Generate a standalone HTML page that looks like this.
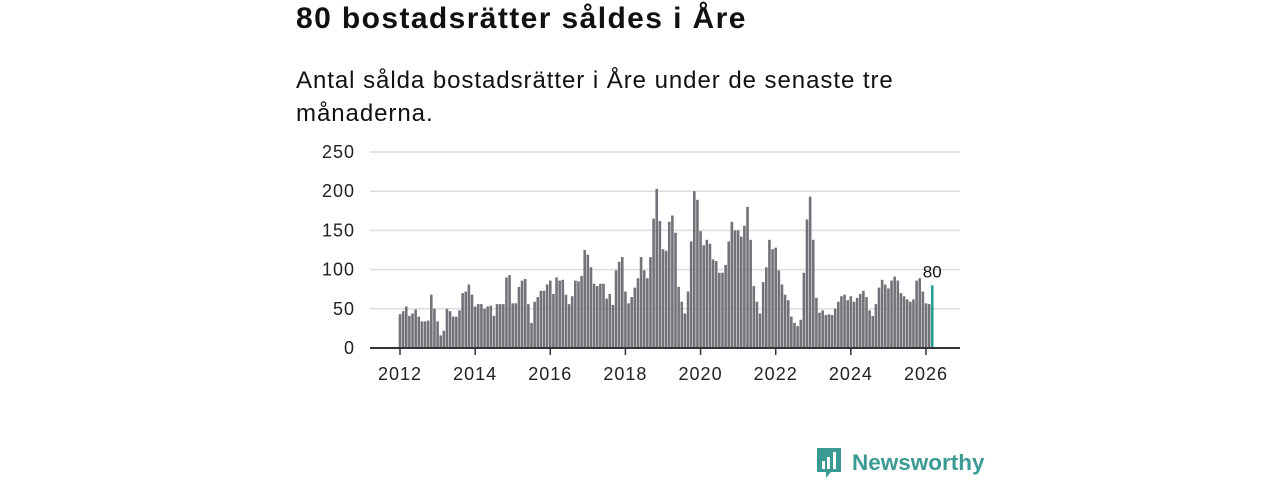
<!DOCTYPE html>
<html><head><meta charset="utf-8"><style>
body{margin:0;width:1280px;height:480px;background:#fff;overflow:hidden;font-family:"Liberation Sans",sans-serif;color:#111}
#title{position:absolute;left:296px;top:2px;font-size:30px;font-weight:bold;margin:0;letter-spacing:1.4px}
#sub{position:absolute;left:296px;top:64px;font-size:24px;line-height:33px;width:660px;margin:0;letter-spacing:0.95px}
svg{position:absolute;left:0;top:0}
</style></head><body>
<h1 id="title">80 bostadsrätter såldes i Åre</h1>
<p id="sub">Antal sålda bostadsrätter i Åre under de senaste tre månaderna.</p>
<svg id="chart" width="1280" height="480"></svg>
<script>
const startYear = 2012;
const values = [43,47,53,41,44,49,40,34,34,35,68,50,34,16,22,50,47,40,40,48,70,72,81,68,53,56,56,50,53,54,41,56,56,56,90,93,57,57,78,86,88,56,32,59,65,73,73,81,86,69,90,86,87,68,56,66,86,85,92,125,119,103,82,79,82,82,63,69,55,99,110,116,72,57,65,77,89,116,99,89,116,165,203,162,126,124,161,169,147,78,59,44,72,136,200,189,149,131,138,133,113,111,96,96,106,136,161,150,150,142,156,180,138,79,59,44,84,103,138,126,128,99,81,68,61,40,32,28,36,96,164,193,138,64,45,48,42,43,42,50,59,66,68,61,66,59,64,69,73,65,48,41,56,77,87,81,76,86,91,86,70,66,62,59,62,86,89,72,57,56,80];
const yTicks = [0,50,100,150,200,250];
const xTicks = [2012,2014,2016,2018,2020,2022,2024,2026];
const NS='http://www.w3.org/2000/svg';
const svg=document.getElementById('chart');
const x=t=>400+(t-2012)*37.57;
const y=v=>348-v*0.784;
function mk(tag,attrs){const e=document.createElementNS(NS,tag);for(const k in attrs)e.setAttribute(k,attrs[k]);svg.appendChild(e);return e;}
yTicks.forEach(v=>{
  if(v>0){const g=mk('line',{x1:370,x2:960,y1:y(v),y2:y(v),stroke:'#dcdcdc','stroke-width':1.5});
  
  }
  const t=mk('text',{x:355,y:y(v)+6,'text-anchor':'end','font-size':18,fill:'#222','letter-spacing':1});
  t.textContent=v;
  
  
});
values.forEach((v,i)=>{
  const last=i===values.length-1;
  const cx=x(startYear+i/12);
  const r=mk('rect',{x:cx-1.3,y:y(v),width:2.6,height:348-y(v),fill:last?'#2a9d94':'#747279'});
  
  
  if(last){const t=mk('text',{x:cx,y:y(v)-8,'text-anchor':'middle','font-size':17,fill:'#111'});t.textContent=v;
  
  }
});
const ax=mk('line',{x1:370,x2:960,y1:348,y2:348,stroke:'#333','stroke-width':2});


xTicks.forEach(yr=>{
  const tk=mk('line',{x1:x(yr),x2:x(yr),y1:348,y2:355,stroke:'#333','stroke-width':1.5});
  
  
  const t=mk('text',{x:x(yr),y:380,'text-anchor':'middle','font-size':18,fill:'#222','letter-spacing':1});
  t.textContent=yr;
  
  
});
</script>
<div style="position:absolute;left:815px;top:446px;display:flex;align-items:center">
<svg width="28" height="34" viewBox="0 0 28 34" style="position:static"><path d="M2 2h24v24H16l-5 6v-6H2z" fill="#3b9b94"/><rect x="7" y="15" width="3" height="8" fill="#fff"/><rect x="12" y="11" width="3" height="12" fill="#fff"/><rect x="18" y="6" width="3" height="17" fill="#fff"/></svg>
<span style="color:#3b9b94;font-size:22.5px;font-weight:bold;margin-left:9px">Newsworthy</span></div>
</body></html>
